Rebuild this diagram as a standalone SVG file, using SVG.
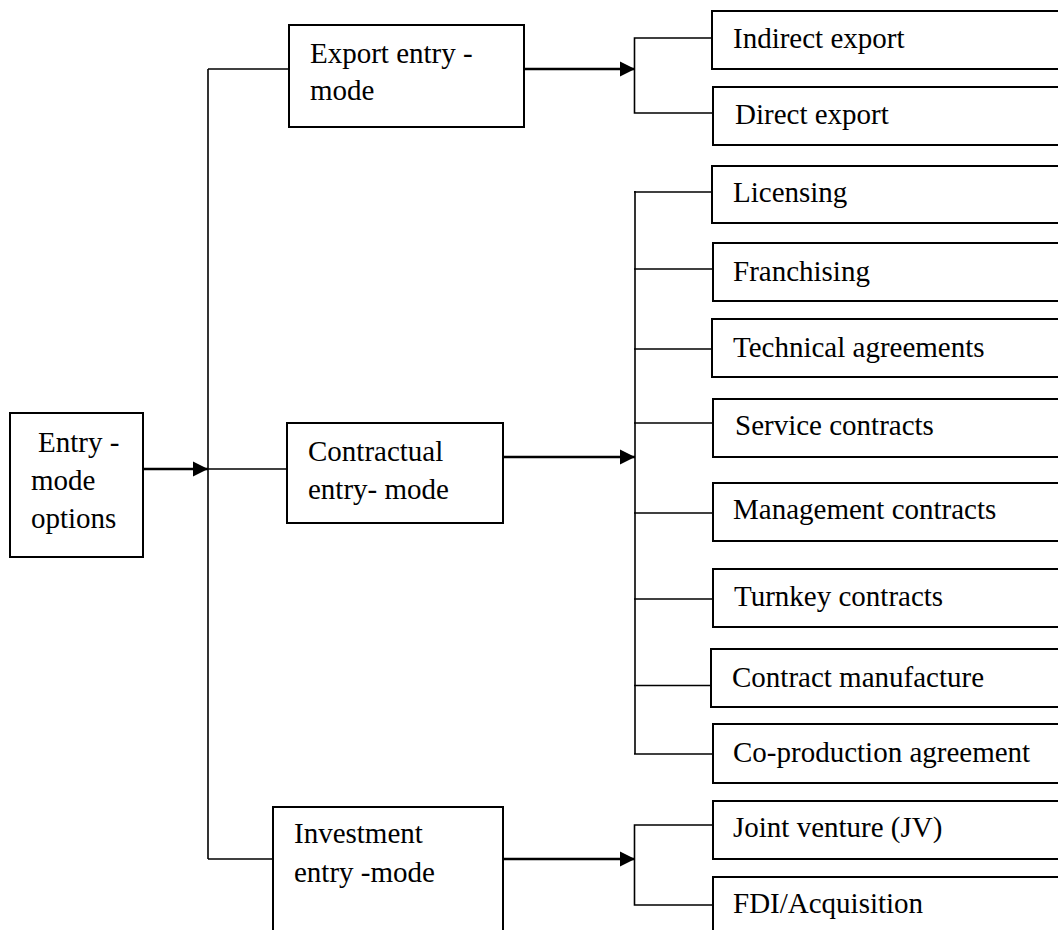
<svg xmlns="http://www.w3.org/2000/svg" width="1058" height="930" viewBox="0 0 1058 930">
<style>
.box{fill:#fff;stroke:#000;stroke-width:2}
.t{font-family:"Liberation Serif","Times New Roman",serif;font-size:29px;fill:#000}
.c{fill:none;stroke:#000;stroke-width:1.6}
.a{fill:none;stroke:#000;stroke-width:2.4}
</style>
<defs>
<marker id="arr" markerUnits="userSpaceOnUse" markerWidth="16" markerHeight="16" refX="15" refY="8" orient="auto">
<path d="M0,0.5 L15,8 L0,15.5 Z" fill="#000"/>
</marker>
</defs>
<rect width="1058" height="930" fill="#fff"/>
<g id="connectors">
<line class="a" x1="143" y1="469" x2="208" y2="469" marker-end="url(#arr)"/>
<line class="c" x1="208" y1="69" x2="208" y2="859"/>
<line class="c" x1="208" y1="69" x2="289" y2="69"/>
<line class="c" x1="208" y1="469" x2="287" y2="469"/>
<line class="c" x1="208" y1="859" x2="273" y2="859"/>
<line class="a" x1="524" y1="69" x2="635" y2="69" marker-end="url(#arr)"/>
<path class="c" d="M715,38 H634.5 V113 H713"/>
<line class="a" x1="503" y1="457" x2="635" y2="457" marker-end="url(#arr)"/>
<line class="c" x1="635" y1="191" x2="635" y2="754"/>
<line class="c" x1="634" y1="192" x2="712" y2="192"/>
<line class="c" x1="634" y1="269" x2="713" y2="269"/>
<line class="c" x1="634" y1="349" x2="712" y2="349"/>
<line class="c" x1="634" y1="423" x2="713" y2="423"/>
<line class="c" x1="634" y1="513" x2="713" y2="513"/>
<line class="c" x1="634" y1="599" x2="713" y2="599"/>
<line class="c" x1="634" y1="685.5" x2="714" y2="685.5"/>
<line class="c" x1="634" y1="754" x2="713" y2="754"/>
<line class="a" x1="503" y1="859" x2="635" y2="859" marker-end="url(#arr)"/>
<path class="c" d="M712,825 H634.5 V905 H712"/>
</g>
<g id="entry-mode-options">
<rect class="box" x="10" y="413" width="133" height="144"/>
<text class="t" x="38" y="452">Entry -</text>
<text class="t" x="31" y="490">mode</text>
<text class="t" x="31" y="528">options</text>
</g>
<g id="export-entry-mode">
<rect class="box" x="289" y="25" width="235" height="102"/>
<text class="t" x="310" y="63">Export entry -</text>
<text class="t" x="310" y="100">mode</text>
</g>
<g id="contractual-entry-mode">
<rect class="box" x="287" y="423" width="216" height="100"/>
<text class="t" x="308" y="461">Contractual</text>
<text class="t" x="308" y="499">entry- mode</text>
</g>
<g id="investment-entry-mode">
<rect class="box" x="273" y="807" width="230" height="140"/>
<text class="t" x="294" y="843">Investment</text>
<text class="t" x="294" y="882">entry -mode</text>
</g>
<g id="indirect-export">
<rect class="box" x="712" y="11" width="360" height="58"/>
<text class="t" x="733" y="48">Indirect export</text>
</g>
<g id="direct-export">
<rect class="box" x="713" y="87" width="360" height="58"/>
<text class="t" x="735" y="124">Direct export</text>
</g>
<g id="licensing">
<rect class="box" x="712" y="166" width="360" height="57"/>
<text class="t" x="733" y="202">Licensing</text>
</g>
<g id="franchising">
<rect class="box" x="713" y="243" width="360" height="58"/>
<text class="t" x="733" y="281">Franchising</text>
</g>
<g id="technical-agreements">
<rect class="box" x="712" y="319" width="360" height="58"/>
<text class="t" x="733" y="357">Technical agreements</text>
</g>
<g id="service-contracts">
<rect class="box" x="713" y="399" width="360" height="58"/>
<text class="t" x="735" y="435">Service contracts</text>
</g>
<g id="management-contracts">
<rect class="box" x="713" y="483" width="360" height="58"/>
<text class="t" x="733" y="519">Management contracts</text>
</g>
<g id="turnkey-contracts">
<rect class="box" x="713" y="569" width="360" height="58"/>
<text class="t" x="734" y="606">Turnkey contracts</text>
</g>
<g id="contract-manufacture">
<rect class="box" x="711" y="649" width="360" height="58"/>
<text class="t" x="732" y="687">Contract manufacture</text>
</g>
<g id="co-production-agreement">
<rect class="box" x="713" y="724" width="360" height="59"/>
<text class="t" x="733" y="762">Co-production agreement</text>
</g>
<g id="joint-venture">
<rect class="box" x="713" y="801" width="360" height="58"/>
<text class="t" x="733" y="837">Joint venture (JV)</text>
</g>
<g id="fdi-acquisition">
<rect class="box" x="713" y="877" width="360" height="70"/>
<text class="t" x="733" y="913">FDI/Acquisition</text>
</g>
</svg>
